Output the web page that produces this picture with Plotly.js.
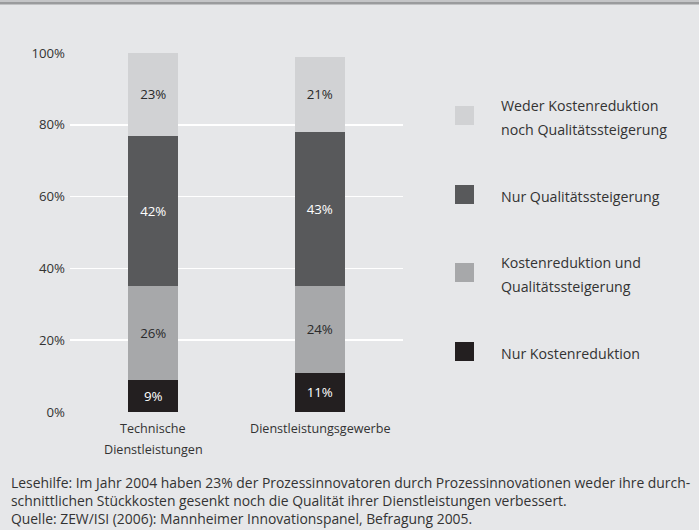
<!DOCTYPE html>
<html>
<head>
<meta charset="utf-8">
<script src="https://cdn.plot.ly/plotly-3.0.1.min.js"></script>
<style>html,body{margin:0;padding:0;background:#e6e7e9;}</style>
</head>
<body>
<div id="chart" style="width:699px;height:530px;"></div>
<script>
var categories = ["Technische<br>Dienstleistungen", "Dienstleistungsgewerbe"];
var seriesNames = ["Nur Kostenreduktion", "Kostenreduktion und<br>Qualitätssteigerung", "Nur Qualitätssteigerung", "Weder Kostenreduktion<br>noch Qualitätssteigerung"];
var nurKosten = [9, 11];
var kostenUndQualitaet = [26, 24];
var nurQualitaet = [42, 43];
var weder = [23, 21];
var seriesValues = [nurKosten, kostenUndQualitaet, nurQualitaet, weder];
var colors = ["#231f20", "#a7a8aa", "#58595b", "#d1d2d4"];
var textColors = ["#ffffff", "#2a2a2a", "#ffffff", "#2a2a2a"];
var yTickVals = [0, 20, 40, 60, 80, 100];
var yTickText = ["0%", "20%", "40%", "60%", "80%", "100%"];
var footer = [
  "Lesehilfe: Im Jahr 2004 haben 23% der Prozessinnovatoren durch Prozessinnovationen weder ihre durch-",
  "schnittlichen Stückkosten gesenkt noch die Qualität ihrer Dienstleistungen verbessert.",
  "Quelle: ZEW/ISI (2006): Mannheimer Innovationspanel, Befragung 2005."
];

var W = 699, H = 530;
var m = {l: 70, r: 296, t: 53, b: 118};
var pw = W - m.l - m.r, ph = H - m.t - m.b;
function px(x) { return (x - m.l) / pw; }
function py(y) { return (H - m.b - y) / ph; }
var FONT = "Open Sans, sans-serif";
var TXT = "#333333";

var xs = [0, 1];
var traces = seriesValues.map(function (vals, i) {
  return {
    type: "bar",
    x: xs,
    y: vals,
    name: seriesNames[i],
    width: 0.3,
    marker: {color: colors[i], line: {width: 0}},
    text: vals.map(function (v) { return v + "%"; }),
    textposition: "inside",
    insidetextanchor: "middle",
    textfont: {family: FONT, size: 13.3, color: textColors[i]},
    hoverinfo: "none",
    showlegend: false
  };
});

var shapes = [
  {type: "rect", xref: "paper", yref: "paper", x0: px(0), x1: px(W), y0: py(2), y1: py(0), fillcolor: "#c4c5c7", line: {width: 0}},
  {type: "rect", xref: "paper", yref: "paper", x0: px(0), x1: px(W), y0: py(4.5), y1: py(2), fillcolor: "#9a9b9d", line: {width: 0}}
];
var annotations = [];

// category labels, one annotation per line for wider line spacing
categories.forEach(function (c, i) {
  c.split("<br>").forEach(function (line, k) {
    annotations.push({xref: "x", yref: "paper", x: xs[i], y: py(428 + k * 21), xanchor: "center", yanchor: "middle", showarrow: false, text: line, font: {family: FONT, size: 12.6, color: TXT}});
  });
});

var legendOrder = [3, 2, 1, 0];
var legendY = [115.5, 194.5, 272.5, 351.5];
legendOrder.forEach(function (si, k) {
  var cy = legendY[k];
  shapes.push({type: "rect", xref: "paper", yref: "paper", x0: px(455), x1: px(474), y0: py(cy + 9.5), y1: py(cy - 9.5), fillcolor: colors[si], line: {width: 0}});
  var lines = seriesNames[si].split("<br>");
  var n = lines.length;
  lines.forEach(function (line, j) {
    var ly = cy + (j - (n - 1) / 2) * 24 + 1.5;
    annotations.push({xref: "paper", yref: "paper", x: px(499), y: py(ly), xanchor: "left", yanchor: "middle", align: "left", showarrow: false, text: line, font: {family: FONT, size: 14.2, color: TXT}});
  });
});
annotations.push({xref: "paper", yref: "paper", x: px(9), y: py(500), xanchor: "left", yanchor: "middle", align: "left", showarrow: false, text: footer.join("<br>"), font: {family: FONT, size: 13.9, color: TXT}});

var layout = {
  width: W, height: H,
  margin: m,
  paper_bgcolor: "#e6e7e9",
  plot_bgcolor: "#e6e7e9",
  barmode: "stack",
  showlegend: false,
  font: {family: FONT, size: 13, color: TXT},
  xaxis: {
    range: [-0.5, 1.5],
    tickvals: xs,
    showticklabels: false,
    showgrid: false,
    zeroline: false,
    showline: false,
    ticks: "",
    fixedrange: true
  },
  yaxis: {
    range: [0, 100],
    tickvals: yTickVals,
    ticktext: yTickText,
    showgrid: true,
    gridcolor: "#ffffff",
    gridwidth: 1.5,
    zeroline: false,
    showline: false,
    ticks: "",
    ticklabelstandoff: 4,
    tickfont: {family: FONT, size: 13.2, color: TXT},
    fixedrange: true
  },
  shapes: shapes,
  annotations: annotations
};
Plotly.newPlot("chart", traces, layout, {displayModeBar: false, staticPlot: true});
</script>
</body>
</html>
